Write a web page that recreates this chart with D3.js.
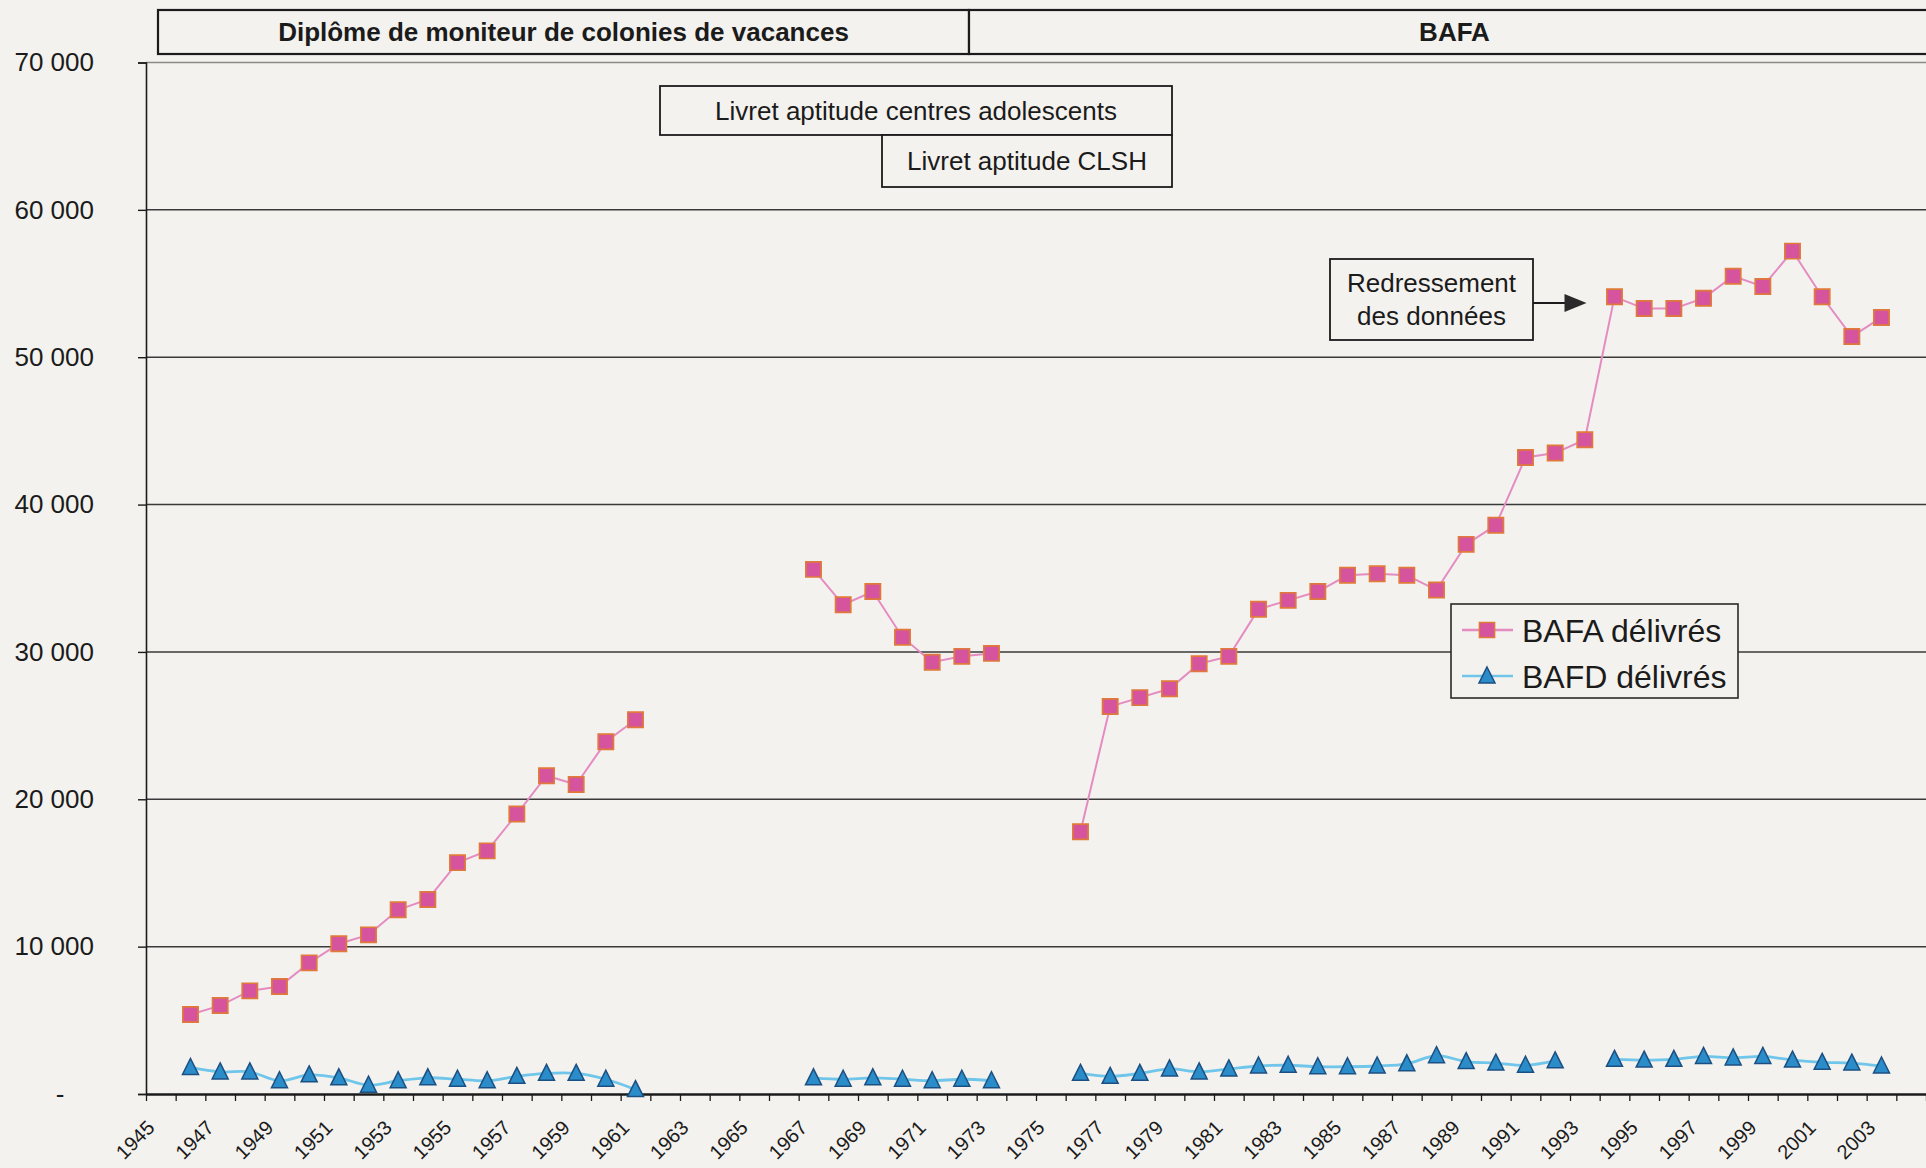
<!DOCTYPE html>
<html lang="fr">
<head>
<meta charset="utf-8">
<script src="https://cdn.jsdelivr.net/npm/d3@7"></script>
<style>
  html, body { margin: 0; padding: 0; background: #f4f2ee; }
  svg { display: block; }
  text { font-family: "Liberation Sans", Arial, sans-serif; fill: #1b1b1b; }
</style>
</head>
<body>
<svg id="chart" width="1926" height="1168"></svg>
<script>
// Years on the category axis (one band per year)
const years = [
  1945, 1946, 1947, 1948, 1949, 1950, 1951, 1952, 1953, 1954,
  1955, 1956, 1957, 1958, 1959, 1960, 1961, 1962, 1963, 1964,
  1965, 1966, 1967, 1968, 1969, 1970, 1971, 1972, 1973, 1974,
  1975, 1976, 1977, 1978, 1979, 1980, 1981, 1982, 1983, 1984,
  1985, 1986, 1987, 1988, 1989, 1990, 1991, 1992, 1993, 1994,
  1995, 1996, 1997, 1998, 1999, 2000, 2001, 2002, 2003, 2004
];

// BAFA délivrés (null = pas de donnée)
const bafa = [
  null, 5400, 6000, 7000, 7300, 8900, 10200, 10800, 12500, 13200,
  15700, 16500, 19000, 21600, 21000, 23900, 25400, null, null, null,
  null, null, 35600, 33200, 34100, 31000, 29300, 29700, 29900, null,
  null, 17800, 26300, 26900, 27500, 29200, 29700, 32900, 33500, 34100,
  35200, 35300, 35200, 34200, 37300, 38600, 43200, 43500, 44400, 54100,
  53300, 53300, 54000, 55500, 54800, 57200, 54100, 51400, 52700, null
];

// BAFD délivrés
const bafd = [
  null, 1800, 1500, 1500, 900, 1300, 1100, 600, 900, 1100,
  1000, 900, 1200, 1400, 1400, 1000, 300, null, null, null,
  null, null, 1100, 1000, 1100, 1000, 900, 1000, 900, null,
  null, 1400, 1200, 1400, 1700, 1500, 1700, 1900, 1950, 1850,
  1850, 1900, 2050, 2600, 2200, 2100, 1950, 2250, null, 2350,
  2300, 2350, 2550, 2450, 2550, 2300, 2150, 2100, 1900, null
];

// Value axis ticks and their labels
const yTicks = [0, 10000, 20000, 30000, 40000, 50000, 60000, 70000];
const yTickLabels = ["-", "10 000", "20 000", "30 000", "40 000", "50 000", "60 000", "70 000"];

// Labelled years on the category axis
const xLabelYears = [
  1945, 1947, 1949, 1951, 1953, 1955, 1957, 1959, 1961, 1963,
  1965, 1967, 1969, 1971, 1973, 1975, 1977, 1979, 1981, 1983,
  1985, 1987, 1989, 1991, 1993, 1995, 1997, 1999, 2001, 2003
];

const seriesNames = ["BAFA délivrés", "BAFD délivrés"];

// ---------------------------------------------------------------
const W = 1926, H = 1168;
const plot = { left: 146, right: 1926, top: 62.5, bottom: 1094 };
const paper = "#f4f2ee";
const ink = "#1b1b1b";

const svg = d3.select("#chart");
svg.append("rect").attr("width", W).attr("height", H).attr("fill", paper);

const x = d3.scaleBand().domain(years).range([plot.left, plot.right]).padding(0);
const xEdge = d3.scaleLinear()
  .domain([years[0], years[years.length - 1] + 1])
  .range([plot.left, plot.right]);
const y = d3.scaleLinear().domain([0, 70000]).range([plot.bottom, plot.top]);
const cx = yr => x(yr) + x.bandwidth() / 2;

// Horizontal gridlines
svg.append("g")
  .selectAll("line")
  .data(yTicks.filter(v => v > 0))
  .join("line")
  .attr("x1", plot.left).attr("x2", plot.right)
  .attr("y1", d => y(d)).attr("y2", d => y(d))
  .attr("stroke", d => d === 70000 ? "#8a8a88" : "#3a3a3a")
  .attr("stroke-width", 1.5);

// Value axis
const yAxis = svg.append("g")
  .attr("transform", `translate(${plot.left},0)`)
  .call(d3.axisLeft(y).tickValues(yTicks)
    .tickFormat((d, i) => yTickLabels[i]).tickSize(8).tickPadding(44));
yAxis.select(".domain").attr("stroke", ink).attr("stroke-width", 1.6);
yAxis.selectAll(".tick line").attr("stroke", ink).attr("stroke-width", 1.4);
yAxis.selectAll(".tick text")
  .attr("font-size", 26).attr("fill", ink)
  .attr("font-family", "'Liberation Sans', Arial, sans-serif");
yAxis.selectAll(".tick text").filter(d => d === 0)
  .attr("text-anchor", "middle").attr("x", 60 - plot.left);

// Category axis: ticks at year boundaries
const xTicks = svg.append("g")
  .attr("transform", `translate(0,${plot.bottom})`)
  .call(d3.axisBottom(xEdge)
    .tickValues(d3.range(years[0], years[years.length - 1] + 2))
    .tickFormat("").tickSize(7).tickSizeOuter(0));
xTicks.select(".domain").attr("stroke", ink).attr("stroke-width", 2.4);
xTicks.selectAll(".tick line").attr("stroke", ink).attr("stroke-width", 1.3);

// Category axis: rotated year labels at band centres
const xLabels = svg.append("g")
  .attr("transform", `translate(0,${plot.bottom})`)
  .call(d3.axisBottom(x).tickValues(xLabelYears).tickSize(0).tickFormat(d3.format("d")));
xLabels.select(".domain").remove();
xLabels.selectAll(".tick text")
  .attr("font-size", 20).attr("fill", ink)
  .attr("font-family", "'Liberation Sans', Arial, sans-serif")
  .attr("text-anchor", "end")
  .attr("dy", 0).attr("y", 0)
  .attr("transform", "translate(-5,35) rotate(-45)");

// Series
const bafaData = years.map((yr, i) => ({ yr, v: bafa[i] }));
const bafdData = years.map((yr, i) => ({ yr, v: bafd[i] }));

const straight = d3.line().defined(d => d.v != null).x(d => cx(d.yr)).y(d => y(d.v));
const smooth = d3.line().defined(d => d.v != null).x(d => cx(d.yr)).y(d => y(d.v))
  .curve(d3.curveCatmullRom.alpha(0.5));

const bafaColor = { line: "#e48cc2", fill: "#d6549d", stroke: "#e07a3a" };
const bafdColor = { line: "#70c6ea", fill: "#2a8cc8", stroke: "#1c4f82" };

svg.append("path").datum(bafdData)
  .attr("d", smooth).attr("fill", "none")
  .attr("stroke", bafdColor.line).attr("stroke-width", 2.8);

svg.append("path").datum(bafaData)
  .attr("d", straight).attr("fill", "none")
  .attr("stroke", bafaColor.line).attr("stroke-width", 2);

const squareSym = d3.symbol(d3.symbolSquare, 232);
const triPath = "M0,-9L8,7L-8,7Z";

svg.append("g").selectAll("path")
  .data(bafaData.filter(d => d.v != null))
  .join("path")
  .attr("d", squareSym)
  .attr("transform", d => `translate(${cx(d.yr)},${y(d.v)})`)
  .attr("fill", bafaColor.fill).attr("stroke", bafaColor.stroke).attr("stroke-width", 1.7);

svg.append("g").selectAll("path")
  .data(bafdData.filter(d => d.v != null))
  .join("path")
  .attr("d", triPath)
  .attr("transform", d => `translate(${cx(d.yr)},${y(d.v)})`)
  .attr("fill", bafdColor.fill).attr("stroke", bafdColor.stroke).attr("stroke-width", 1.5);

// Regime boxes along the top
function box(x0, y0, x1, y1, lines, opts = {}) {
  const g = svg.append("g");
  g.append("rect")
    .attr("x", x0).attr("y", y0).attr("width", x1 - x0).attr("height", y1 - y0)
    .attr("fill", paper).attr("stroke", ink).attr("stroke-width", opts.sw || 1.8);
  const lh = opts.lineHeight || 0;
  const mid = (y0 + y1) / 2 - (lines.length - 1) * lh / 2;
  lines.forEach((t, i) => {
    g.append("text")
      .attr("x", (x0 + x1) / 2).attr("y", mid + i * lh)
      .attr("dy", "0.36em").attr("text-anchor", "middle")
      .attr("font-size", opts.size || 26)
      .attr("font-weight", opts.bold ? "bold" : "normal")
      .text(t);
  });
  return g;
}

box(158, 10, 969, 54, ["Diplôme de moniteur de colonies de vacances"], { bold: true, size: 26, sw: 2.2 });
box(969, 10, 1940, 54, ["BAFA"], { bold: true, size: 26, sw: 2.2 });
box(660, 86, 1172, 135, ["Livret aptitude centres adolescents"], { size: 26 });
box(882, 135, 1172, 187, ["Livret aptitude CLSH"], { size: 26 });

// Annotation for the 1994 break
box(1330, 259, 1533, 340, ["Redressement", "des données"], { size: 26, lineHeight: 33 });
const arrowY = 303;
const tipX = cx(1994) - 28;
svg.append("line")
  .attr("x1", 1533).attr("x2", tipX - 16)
  .attr("y1", arrowY).attr("y2", arrowY)
  .attr("stroke", ink).attr("stroke-width", 1.8);
svg.append("path")
  .attr("d", `M${tipX},${arrowY}L${tipX - 22},${arrowY - 9}L${tipX - 22},${arrowY + 9}Z`)
  .attr("fill", "#2a2a2a");

// Legend
const lg = svg.append("g");
lg.append("rect")
  .attr("x", 1451).attr("y", 604).attr("width", 287).attr("height", 94)
  .attr("fill", paper).attr("stroke", "#2a2a2a").attr("stroke-width", 1.6);
const legendRows = [
  { name: seriesNames[0], c: bafaColor, shape: "sq", yy: 630 },
  { name: seriesNames[1], c: bafdColor, shape: "tri", yy: 676 }
];
legendRows.forEach(r => {
  lg.append("line")
    .attr("x1", 1462).attr("x2", 1513).attr("y1", r.yy).attr("y2", r.yy)
    .attr("stroke", r.c.line).attr("stroke-width", 2.4);
  lg.append("path")
    .attr("d", r.shape === "sq" ? squareSym() : triPath)
    .attr("transform", `translate(1487,${r.yy})`)
    .attr("fill", r.c.fill).attr("stroke", r.c.stroke).attr("stroke-width", 1.5);
  lg.append("text")
    .attr("x", 1522).attr("y", r.yy).attr("dy", "0.36em")
    .attr("font-size", 32).text(r.name);
});
</script>
</body>
</html>
